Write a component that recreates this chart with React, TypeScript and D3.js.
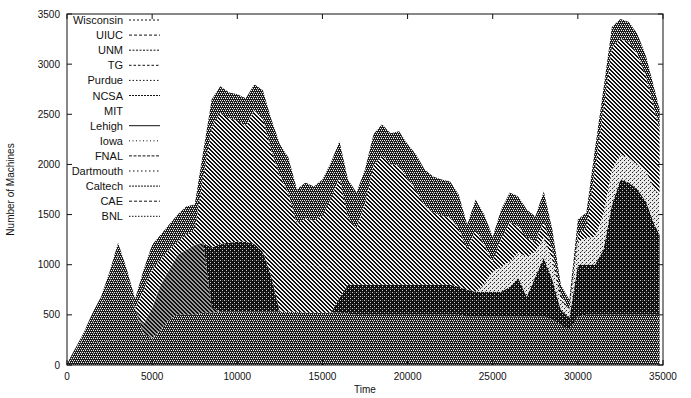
import React from "react";
import * as d3 from "d3";

const times = [
  0, 500, 1000, 1500, 2000, 2500, 3000, 3500, 4000, 4500, 5000, 5500, 6000, 6500, 7000, 7500,
  8000, 8500, 9000, 9500, 10000, 10500, 11000, 11500, 12000, 12500, 13000, 13500, 14000, 14500,
  15000, 15500, 16000, 16500, 17000, 17500, 18000, 18500, 19000, 19500, 20000, 20500, 21000,
  21500, 22000, 22500, 23000, 23500, 24000, 24500, 25000, 25500, 26000, 26500, 27000, 27500,
  28000, 28500, 29000, 29500, 30000, 30500, 31000, 31500, 32000, 32500, 33000, 33500, 34000,
  34500, 34800,
];

const BNL = [
  20, 80, 150, 200, 220, 240, 250, 250, 250,
  230, 250, 350, 450, 500, 500, 500, 520,
  520, 530, 530, 530, 530, 530, 530,
  530, 530, 530, 530, 520, 520, 520, 520,
  520, 510, 500, 500, 500, 500, 500, 500, 500, 500, 500, 500, 500, 500, 500,
  480, 480, 480, 480, 480, 480, 480, 480, 480, 480, 450, 400,
  350, 480, 500, 500, 500, 500, 500, 500, 500, 500, 500, 500,
];
const CAE = [
  0, 60, 130, 240, 360, 590, 850, 590, 310,
  80, 20, 0, 0, 0, 0, 0, 0,
  0, 0, 0, 0, 0, 0, 0,
  0, 0, 0, 0, 0, 0, 0, 0,
  0, 0, 0, 0, 0, 0, 0, 0, 0, 0, 0, 0, 0, 0, 0,
  0, 0, 0, 0, 0, 0, 0, 0, 0, 0, 0, 0,
  0, 0, 0, 0, 0, 0, 0, 0, 0, 0, 0, 0,
];
const Caltech = [
  0, 0, 0, 0, 0, 0, 0, 0, 0,
  100, 300, 450, 500, 600, 650, 700, 700,
  50, 0, 0, 0, 0, 0, 0,
  0, 0, 0, 0, 0, 0, 0, 0,
  0, 0, 0, 0, 0, 0, 0, 0, 0, 0, 0, 0, 0, 0, 0,
  0, 0, 0, 0, 0, 0, 0, 0, 0, 0, 0, 0,
  0, 0, 0, 0, 0, 0, 0, 0, 0, 0, 0, 0,
];
const Dartmouth = [
  0, 0, 0, 0, 0, 0, 0, 0, 0,
  0, 0, 0, 0, 0, 0, 0, 0,
  600, 680, 690, 700, 700, 680, 600,
  350, 0, 0, 0, 0, 0, 0, 0,
  150, 290, 300, 300, 300, 300, 300, 300, 300, 300, 300, 300, 300, 300, 280,
  270, 250, 250, 250, 250, 300, 390, 200, 400, 590, 400, 150,
  120, 520, 500, 500, 650, 1100, 1350, 1320, 1250, 1130, 900, 800,
];
const FNAL = [
  0, 0, 0, 0, 0, 0, 0, 0, 0,
  0, 0, 0, 0, 0, 0, 0, 0,
  0, 0, 0, 0, 0, 0, 0,
  0, 0, 0, 0, 0, 0, 0, 0,
  0, 0, 0, 0, 0, 0, 0, 0, 0, 0, 0, 0, 0, 0, 0,
  0, 0, 80, 200, 250, 250, 250, 400, 250, 200, 200, 100,
  80, 230, 270, 280, 350, 350, 250, 250, 250, 300, 350, 400,
];
const Iowa = [
  0, 0, 0, 0, 0, 0, 0, 0, 0,
  0, 0, 0, 0, 0, 0, 0, 0,
  0, 0, 0, 0, 0, 0, 0,
  200, 450, 480, 480, 480, 470, 460, 450,
  200, 0, 0, 0, 0, 0, 0, 0, 0, 0, 0, 0, 0, 0, 0,
  0, 0, 0, 0, 0, 0, 0, 0, 0, 0, 0, 0,
  0, 0, 0, 0, 0, 0, 0, 0, 0, 0, 0, 0,
];
const Lehigh = [
  0, 0, 0, 0, 0, 0, 0, 0, 0, 0, 0, 0, 0, 0, 0, 0, 0, 0, 0, 0, 0, 0, 0, 0,
  0, 0, 0, 0, 0, 0, 0, 0, 0, 0, 0, 0, 0, 0, 0, 0, 0, 0, 0, 0, 0, 0, 0, 0,
  0, 0, 0, 0, 0, 0, 0, 0, 0, 0, 0, 0, 0, 0, 0, 0, 0, 0, 0, 0, 0, 0, 0,
];
const MIT = [...Lehigh];
const NCSA = [
  0, 0, 0, 0, 0, 0, 0, 0, 0,
  340, 380, 250, 200, 130, 150, 150, 660,
  1200, 1310, 1240, 1210, 1150, 1330, 1330,
  1060, 910, 700, 400, 460, 450, 510, 690,
  1000, 670, 560, 810, 1190, 1290, 1200, 1190, 1060, 940, 790, 720, 690, 670, 580,
  400, 620, 390, 100, 290, 390, 260, 190, 100, 160, 100, 50,
  0, 70, 100, 670, 1050, 1220, 1150, 1150, 1100, 950, 800, 650,
];
const Purdue = [...Lehigh];
const TG = [...Lehigh];
const UNM = [...Lehigh];
const UIUC = [...Lehigh];
const Wisconsin = [
  0, 30, 50, 80, 100, 100, 120, 120, 100,
  200, 250, 250, 250, 270, 280, 250, 250,
  280, 260, 260, 260, 280, 260, 280,
  310, 310, 360, 340, 360, 340, 360, 360,
  360, 380, 360, 340, 310, 310, 310, 340, 340, 360, 360, 360, 360, 360, 340,
  250, 300, 300, 250, 280, 300, 300, 280, 250, 300, 200, 100,
  100, 150, 150, 200, 200, 200, 200, 200, 200, 200, 200, 200,
];

// stacking order, bottom first
const stackKeys = [
  "BNL", "CAE", "Caltech", "Dartmouth", "FNAL", "Iowa", "Lehigh",
  "MIT", "NCSA", "Purdue", "TG", "UNM", "UIUC", "Wisconsin",
];
const seriesValues: Record<string, number[]> = {
  BNL, CAE, Caltech, Dartmouth, FNAL, Iowa, Lehigh, MIT, NCSA, Purdue, TG, UNM, UIUC, Wisconsin,
};
const legendOrder = [
  "Wisconsin", "UIUC", "UNM", "TG", "Purdue", "NCSA", "MIT",
  "Lehigh", "Iowa", "FNAL", "Dartmouth", "Caltech", "CAE", "BNL",
];
const xTicks = [0, 5000, 10000, 15000, 20000, 25000, 30000, 35000];
const yTicks = [0, 500, 1000, 1500, 2000, 2500, 3000, 3500];

const fills: Record<string, string> = {
  BNL: "url(#pDark)",
  CAE: "url(#pDark)",
  Caltech: "url(#pHatch2)",
  Dartmouth: "url(#pVDark)",
  FNAL: "url(#pLight)",
  Iowa: "url(#pHatch)",
  Lehigh: "url(#pHatch)",
  MIT: "url(#pHatch)",
  NCSA: "url(#pHatch)",
  Purdue: "url(#pHatch)",
  TG: "url(#pHatch)",
  UNM: "url(#pHatch)",
  UIUC: "url(#pHatch)",
  Wisconsin: "url(#pDark)",
};
const dashes: Record<string, string | null> = {
  Wisconsin: "2,2", UIUC: "3,2", UNM: "2,1.5", TG: "2.5,2", Purdue: "1.5,2", NCSA: "2,1",
  MIT: null, Lehigh: "", Iowa: "1,2.5", FNAL: "3,1.5", Dartmouth: "1.5,2.5", Caltech: "2,1",
  CAE: "3,2", BNL: "1.5,1.5",
};

const W = 691, H = 398;
const L = 67, R = 663, T = 14, B = 365;

export default function App() {
  const x = d3.scaleLinear().domain([0, 35000]).range([L, R]);
  const y = d3.scaleLinear().domain([0, 3500]).range([B, T]);
  const rows = times.map((t, i) => {
    const r: Record<string, number> = { t };
    stackKeys.forEach((k) => (r[k] = seriesValues[k][i]));
    return r;
  });
  const stacked = d3.stack<Record<string, number>>().keys(stackKeys)(rows);
  const area = d3
    .area<any>()
    .x((d) => x(d.data.t))
    .y0((d) => y(d[0]))
    .y1((d) => y(d[1]));

  const font = "'Liberation Sans', Arial, sans-serif";

  return (
    <svg
      width={W}
      height={H}
      style={{ position: "absolute", left: 0, top: 0, background: "#fff" }}
      fontFamily={font}
    >
      <defs>
        <pattern id="pDark" width="4" height="4" patternUnits="userSpaceOnUse">
          <rect width="4" height="4" fill="#1c1c1c" />
          <rect x="0" y="0" width="1" height="1" fill="#f0f0f0" />
          <rect x="2" y="0" width="1" height="1" fill="#f0f0f0" />
          <rect x="1" y="2" width="1" height="1" fill="#f0f0f0" />
          <rect x="3" y="2" width="1" height="1" fill="#f0f0f0" />
          <rect x="1" y="1" width="1" height="1" fill="#777" />
        </pattern>
        <pattern id="pVDark" width="4" height="4" patternUnits="userSpaceOnUse">
          <rect width="4" height="4" fill="#101010" />
          <rect x="0" y="0" width="1" height="1" fill="#cfcfcf" />
          <rect x="2" y="2" width="1" height="1" fill="#cfcfcf" />
          <rect x="2" y="0" width="1" height="1" fill="#555" />
        </pattern>
        <pattern id="pHatch" width="4" height="4" patternUnits="userSpaceOnUse">
          <rect width="4" height="4" fill="#f4f4f4" />
          <rect x="0" y="0" width="2" height="1" fill="#111" />
          <rect x="1" y="1" width="2" height="1" fill="#111" />
          <rect x="2" y="2" width="2" height="1" fill="#111" />
          <rect x="3" y="3" width="1" height="1" fill="#111" />
          <rect x="0" y="3" width="1" height="1" fill="#111" />
        </pattern>
        <pattern id="pHatch2" width="4" height="4" patternUnits="userSpaceOnUse">
          <rect width="4" height="4" fill="#9a9a9a" />
          <rect x="0" y="0" width="2" height="1" fill="#111" />
          <rect x="1" y="1" width="2" height="1" fill="#111" />
          <rect x="2" y="2" width="2" height="1" fill="#111" />
          <rect x="3" y="3" width="1" height="1" fill="#111" />
          <rect x="0" y="3" width="1" height="1" fill="#111" />
        </pattern>
        <pattern id="pLight" width="4" height="4" patternUnits="userSpaceOnUse">
          <rect width="4" height="4" fill="#e8e8e8" />
          <rect x="0" y="0" width="1" height="1" fill="#222" />
          <rect x="2" y="2" width="1" height="1" fill="#222" />
          <rect x="1" y="3" width="1" height="1" fill="#888" />
        </pattern>
      </defs>

      {stacked.map((s) => (
        <path key={s.key} d={area(s as any) || ""} fill={fills[s.key]} stroke="none" />
      ))}

      <rect x={L} y={T} width={R - L} height={B - T} fill="none" stroke="#111" strokeWidth={1} />

      {yTicks.map((v) => (
        <g key={"y" + v}>
          <line x1={L} x2={L + 5} y1={y(v)} y2={y(v)} stroke="#111" />
          <line x1={R} x2={R - 5} y1={y(v)} y2={y(v)} stroke="#111" />
          <text x={L - 7} y={y(v) + 3.5} fontSize={10} textAnchor="end" fill="#111">
            {v}
          </text>
        </g>
      ))}
      {xTicks.map((v) => (
        <g key={"x" + v}>
          <line x1={x(v)} x2={x(v)} y1={B} y2={B - 5} stroke="#111" />
          <line x1={x(v)} x2={x(v)} y1={T} y2={T + 5} stroke="#111" />
          <text x={x(v)} y={B + 15} fontSize={10} textAnchor="middle" fill="#111">
            {v}
          </text>
        </g>
      ))}

      <text x={(L + R) / 2} y={393} fontSize={10} textAnchor="middle" fill="#111">
        Time
      </text>
      <text
        transform={`translate(14,${(T + B) / 2}) rotate(-90)`}
        fontSize={10}
        textAnchor="middle"
        fill="#111"
      >
        Number of Machines
      </text>

      {legendOrder.map((k, i) => {
        const ly = 20 + i * 15.1;
        const dash = dashes[k];
        return (
          <g key={"l" + k}>
            <text x={123} y={ly + 4} fontSize={11} textAnchor="end" fill="#111">
              {k}
            </text>
            {dash !== null && (
              <line
                x1={129}
                x2={160}
                y1={ly}
                y2={ly}
                stroke="#111"
                strokeWidth={1}
                strokeDasharray={dash || undefined}
              />
            )}
          </g>
        );
      })}
    </svg>
  );
}
